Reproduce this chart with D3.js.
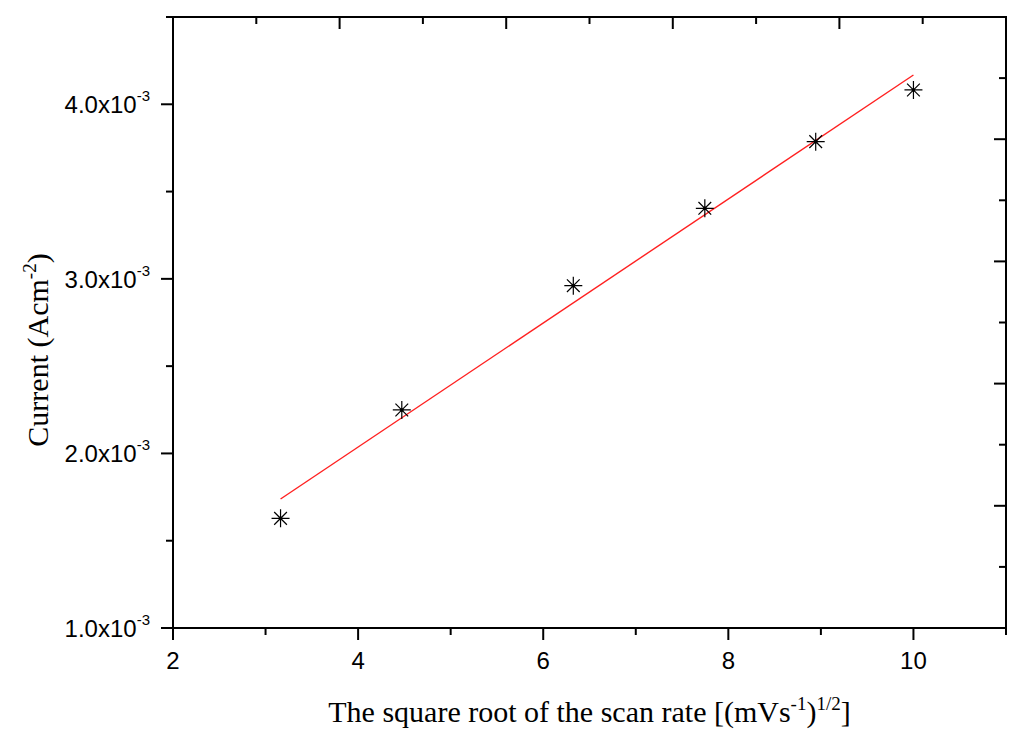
<!DOCTYPE html>
<html lang="en">
<head>
<meta charset="UTF-8">
<title>Current vs square root of scan rate</title>
<style>
  body { margin: 0; background: #fff; }
  .tick-label { font-family: "Liberation Sans", Arial, sans-serif; font-size: 24px; fill: #000; }
  .axis-title { font-family: "Liberation Serif", "Times New Roman", serif; font-size: 30px; fill: #000; }
  .frame line { stroke: #000; stroke-width: 2; }
</style>
<script src="https://cdn.jsdelivr.net/npm/d3@7"></script>
</head>
<body>
<script>
// data (x = sqrt of scan rate, y = current in A/cm2)
var sqrtRate = [3.162, 4.472, 6.325, 7.746, 8.944, 10.0];
var current  = [1.628e-3, 2.249e-3, 2.961e-3, 3.404e-3, 3.786e-3, 4.082e-3];

// end points of the red linear fit
var fitX = [3.162, 10.0];
var fitY = [1.739e-3, 4.168e-3];

// ticks
var xMajor = [2, 4, 6, 8, 10];
var xMinor = [3, 5, 7, 9, 11];
var yMajor = [1e-3, 2e-3, 3e-3, 4e-3];
var yMinor = [1.5e-3, 2.5e-3, 3.5e-3];
var yLabels = ["1.0", "2.0", "3.0", "4.0"];
// top and right axes have their own (unlabelled) ticks
var edgeMajor = [2, 4, 6, 8];
var edgeMinor = [1, 3, 5, 7, 9];

function grafico() {
  var W = 1024, H = 744;
  var mLeft = 173, mRight = 1006, mTop = 17, mBottom = 628;
  var majLen = 12, minLen = 7;

  var svg = d3.select("body").append("svg")
      .attr("width", W).attr("height", H);

  var x = d3.scaleLinear().domain([2, 11]).range([mLeft, mRight]);
  var y = d3.scaleLinear().domain([1e-3, 4.5e-3]).range([mBottom, mTop]);
  var xTop = d3.scaleLinear().domain([0, 10]).range([mLeft, mRight]);
  var yRight = d3.scaleLinear().domain([0, 10]).range([mTop, mBottom]);

  // frame
  var frame = svg.append("g").attr("class", "frame");
  frame.append("line").attr("x1", mLeft).attr("x2", mLeft).attr("y1", mTop).attr("y2", mBottom);
  frame.append("line").attr("x1", mRight).attr("x2", mRight).attr("y1", mTop).attr("y2", mBottom);
  frame.append("line").attr("x1", mLeft - 12).attr("x2", mRight + 1).attr("y1", mBottom).attr("y2", mBottom);
  frame.append("line").attr("x1", mLeft - 7).attr("x2", mRight + 1).attr("y1", mTop).attr("y2", mTop);

  // bottom ticks (outward)
  frame.selectAll(".xmaj").data(xMajor).enter().append("line")
      .attr("x1", x).attr("x2", x).attr("y1", mBottom).attr("y2", mBottom + majLen);
  frame.selectAll(".xmin").data(xMinor).enter().append("line")
      .attr("x1", x).attr("x2", x).attr("y1", mBottom).attr("y2", mBottom + minLen);

  // left ticks (outward)
  frame.selectAll(".ymaj").data(yMajor).enter().append("line")
      .attr("y1", y).attr("y2", y).attr("x1", mLeft).attr("x2", mLeft - majLen);
  frame.selectAll(".ymin").data(yMinor).enter().append("line")
      .attr("y1", y).attr("y2", y).attr("x1", mLeft).attr("x2", mLeft - minLen);

  // top ticks (inward)
  frame.selectAll(".tmaj").data(edgeMajor).enter().append("line")
      .attr("x1", xTop).attr("x2", xTop).attr("y1", mTop).attr("y2", mTop + majLen);
  frame.selectAll(".tmin").data(edgeMinor).enter().append("line")
      .attr("x1", xTop).attr("x2", xTop).attr("y1", mTop).attr("y2", mTop + minLen);

  // right ticks (inward)
  frame.selectAll(".rmaj").data(edgeMajor).enter().append("line")
      .attr("y1", yRight).attr("y2", yRight).attr("x1", mRight).attr("x2", mRight - majLen);
  frame.selectAll(".rmin").data(edgeMinor).enter().append("line")
      .attr("y1", yRight).attr("y2", yRight).attr("x1", mRight).attr("x2", mRight - minLen);

  // x tick labels
  svg.selectAll(".xlab").data(xMajor).enter().append("text")
      .attr("class", "tick-label")
      .attr("x", x).attr("y", mBottom + 41)
      .attr("text-anchor", "middle")
      .text(function(d) { return d; });

  // y tick labels like 4.0x10^-3
  var ylab = svg.selectAll(".ylab").data(yMajor).enter().append("text")
      .attr("class", "tick-label")
      .attr("x", 150).attr("y", function(d) { return y(d) + 9; })
      .attr("text-anchor", "end");
  ylab.append("tspan").text(function(d, i) { return yLabels[i] + "x10"; });
  ylab.append("tspan").attr("dy", -12).style("font-size", "15px").text("-3");

  // fit line
  var fitData = fitX.map(function(d, i) { return [d, fitY[i]]; });
  svg.append("path")
      .datum(fitData)
      .attr("fill", "none")
      .attr("stroke", "#ff2020")
      .attr("stroke-width", 1.4)
      .attr("d", d3.line().x(function(d) { return x(d[0]); }).y(function(d) { return y(d[1]); }));

  // star markers (8 arms)
  function star(r) {
    var p = d3.path(), k = r * Math.SQRT1_2;
    p.moveTo(-r, 0); p.lineTo(r, 0);
    p.moveTo(0, -r); p.lineTo(0, r);
    p.moveTo(-k, -k); p.lineTo(k, k);
    p.moveTo(-k, k); p.lineTo(k, -k);
    return p.toString();
  }
  var pts = svg.selectAll(".pt").data(sqrtRate).enter().append("g")
      .attr("transform", function(d, i) { return "translate(" + x(d) + "," + y(current[i]) + ")"; });
  pts.append("path").attr("d", star(9)).attr("stroke", "#000").attr("stroke-width", 1.2).attr("fill", "none");
  pts.append("circle").attr("r", 1.8).attr("fill", "#000");

  // axis titles
  var xt = svg.append("text").attr("class", "axis-title")
      .attr("x", (mLeft + mRight) / 2).attr("y", 722)
      .attr("text-anchor", "middle");
  xt.append("tspan").text("The square root of the scan rate [(mVs");
  xt.append("tspan").attr("dy", -12).style("font-size", "19px").text("-1");
  xt.append("tspan").attr("dy", 12).text(")");
  xt.append("tspan").attr("dy", -12).style("font-size", "19px").text("1/2");
  xt.append("tspan").attr("dy", 12).text("]");

  var yt = svg.append("text").attr("class", "axis-title")
      .attr("transform", "translate(48,350) rotate(-90)")
      .attr("text-anchor", "middle");
  yt.append("tspan").text("Current (Acm");
  yt.append("tspan").attr("dy", -12).style("font-size", "19px").text("-2");
  yt.append("tspan").attr("dy", 12).text(")");
}
grafico();
</script>
</body>
</html>
